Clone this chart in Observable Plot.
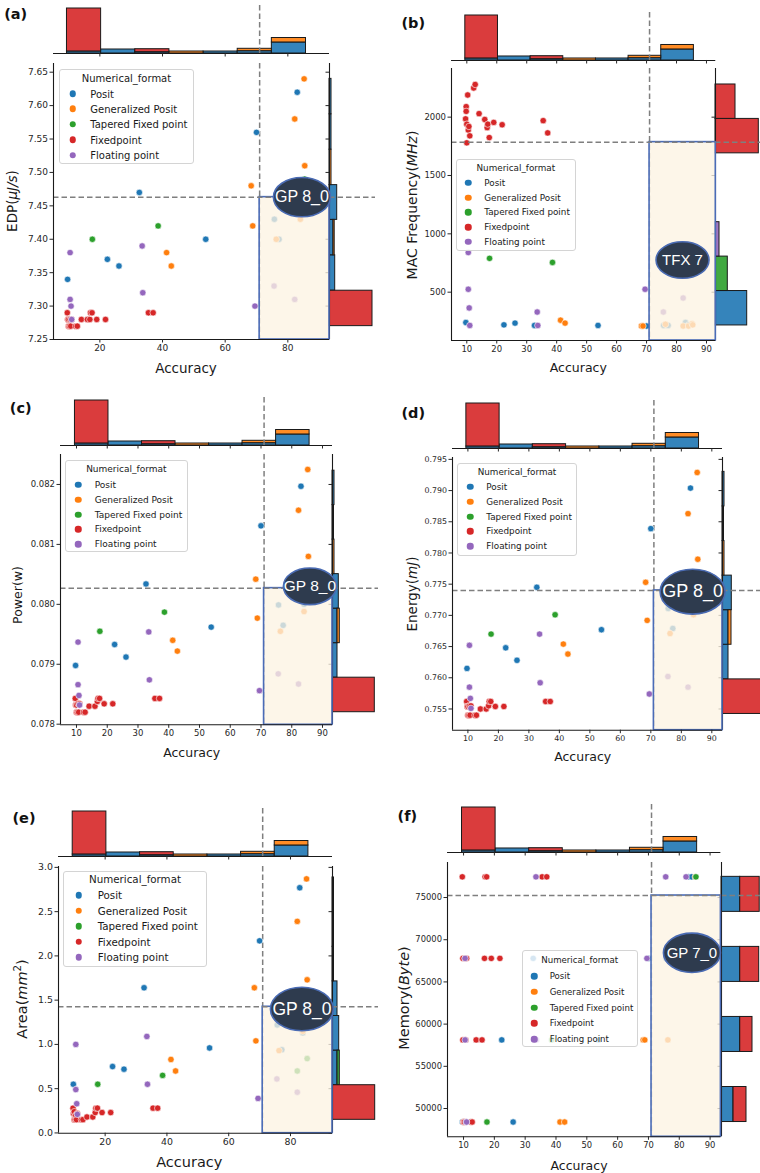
<!DOCTYPE html>
<html><head><meta charset="utf-8">
<script src="https://cdn.jsdelivr.net/npm/d3@7"></script>
<script src="https://cdn.jsdelivr.net/npm/@observablehq/plot@0.6"></script>
<style>
body{margin:0;background:#fff;}
#fig{position:relative;width:760px;height:1173px;overflow:hidden;font-family:"DejaVu Sans",sans-serif;color:#1a1a1a;}
.abs{position:absolute;}
.abs svg{max-width:none !important;display:block;}
.legend{position:absolute;background:rgba(255,255,255,0.82);border:1px solid #d4d4d4;border-radius:3px;box-sizing:border-box;font-family:"DejaVu Sans",sans-serif;color:#1a1a1a;}
.legend .row{position:absolute;left:0;right:0;white-space:nowrap;transform:translateY(-50%);}
.legend .dotm{position:absolute;width:6.5px;height:6.5px;border-radius:50%;top:50%;transform:translate(-50%,-50%);}
.ylab{position:absolute;white-space:nowrap;transform:translate(-50%,-50%) rotate(-90deg);font-family:"DejaVu Sans",sans-serif;color:#1a1a1a;}
.xlab{position:absolute;white-space:nowrap;transform:translate(-50%,-50%);font-family:"DejaVu Sans",sans-serif;color:#1a1a1a;}
.plab{position:absolute;white-space:nowrap;transform:translate(-50%,-50%);font-family:"DejaVu Sans",sans-serif;font-weight:bold;color:#111;}
</style>
</head><body>
<div id="fig"></div>
<script>
// ---------------- data ----------------
const formats = ["Posit","Generalized Posit","Tapered Fixed point","Fixedpoint","Floating point"];
const colors = ["#1f77b4","#ff7f0e","#2ca02c","#d62728","#9467bd"];

// one entry per configuration (format index)
const formatOf = [
  0,0,0,0,0,0,0,0,0,0,
  1,1,1,1,1,1,1,1,1,
  2,2,2,2,
  3,3,3,3,3,3,3,3,3,3,3,3,3,3,3,3,3,3,3,3,
  4,4,4,4,4,4,4,4,4
];
const accuracy = [
  9.7,22.4,26.1,32.6,53.8,70.0,75.7,77.2,83.0,84.0,
  41.3,42.8,68.3,68.8,76.3,82.2,84.0,85.2,85.4,
  17.6,38.6,82.2,85.4,
  9.6,9.8,9.8,10.0,10.0,10.3,10.5,10.7,11.0,12.3,12.8,14.1,16.0,16.8,17.0,17.5,19.0,21.8,35.5,37.0,
  10.5,10.5,10.8,11.0,33.5,33.7,69.5,75.6,82.2
];
const edp = [
  7.34,7.37,7.36,7.47,7.40,7.56,7.43,7.40,7.62,7.45,
  7.38,7.36,7.48,7.42,7.40,7.58,7.43,7.64,7.51,
  7.40,7.42,7.45,7.49,
  7.29,7.28,7.28,7.27,7.28,7.27,7.28,7.27,7.28,7.27,7.27,7.28,7.28,7.28,7.29,7.29,7.28,7.28,7.29,7.29,
  7.38,7.31,7.30,7.28,7.39,7.32,7.30,7.33,7.31
];
const mac = [
  240,220,235,215,215,210,215,215,240,220,
  260,235,210,210,225,210,210,230,220,
  790,755,770,785,
  1985,2090,2050,1940,1780,2190,1890,1920,1840,2250,2280,2030,1980,1910,1940,1825,1955,1935,1970,1865,
  840,525,365,215,330,215,525,330,450
];
const power = [
  0.07898,0.07933,0.07912,0.08034,0.07962,0.08131,0.07999,0.07965,0.08197,0.08000,
  0.07940,0.07922,0.08042,0.07977,0.07955,0.08157,0.07988,0.08225,0.08080,
  0.07955,0.07987,0.08030,0.08040,
  0.07843,0.07832,0.07832,0.07820,0.07832,0.07820,0.07834,0.07820,0.07834,0.07820,0.07820,0.07830,0.07830,0.07838,0.07843,0.07843,0.07834,0.07834,0.07843,0.07843,
  0.07937,0.07866,0.07848,0.07832,0.07954,0.07874,0.07856,0.07884,0.07867
];
const energy = [
  0.7615,0.7648,0.7628,0.7745,0.7677,0.7839,0.7711,0.7679,0.7904,0.7722,
  0.7654,0.7638,0.7753,0.7692,0.7671,0.7863,0.7701,0.7929,0.7790,
  0.7670,0.7701,0.7735,0.7745,
  0.7562,0.7554,0.7554,0.7540,0.7554,0.7540,0.7555,0.7540,0.7555,0.7540,0.7540,0.7550,0.7550,0.7555,0.7562,0.7562,0.7554,0.7554,0.7562,0.7562,
  0.7652,0.7585,0.7567,0.7551,0.7670,0.7592,0.7574,0.7602,0.7585
];
const area = [
  0.55,0.75,0.72,1.64,0.96,2.17,1.22,0.94,2.77,1.13,
  0.83,0.70,1.64,1.04,0.93,2.39,1.15,2.87,1.73,
  0.55,0.65,0.70,0.84,
  0.28,0.22,0.22,0.15,0.24,0.15,0.20,0.15,0.22,0.15,0.15,0.18,0.18,0.23,0.28,0.28,0.23,0.23,0.28,0.28,
  1.00,0.49,0.33,0.21,1.09,0.55,0.39,0.61,0.46
];
const memory = [
  48400,58130,48400,67790,58130,67790,67790,67790,77450,77450,
  48400,48400,58130,58130,58130,67790,67790,77450,67790,
  48400,58130,67790,77450,
  77450,67790,58130,48400,48400,48400,67790,58130,67790,48400,48400,58130,58130,67790,77450,77450,67790,67790,77450,77450,
  67790,58130,48400,48400,77450,58130,67790,77450,77450
];

const accuracyCut = 71;
const metricThreshold = [7.463, 1786, 0.08027, 0.7740, 1.425, 75237];
const labelText  = ["GP 8_0","TFX 7","GP 8_0","GP 8_0","GP 8_0","GP 7_0"];
const labelAcc   = [84.5, 82.0, 85.9, 83.7, 83.7, 84.1];
const labelValue = [7.463, 776, 0.0803, 0.7738, 1.40, 68450];

// marginal histogram of accuracy (bar lengths per format, bins left->right)
const accEdges = [9.5,20.4,31.3,42.2,53.1,64.0,74.9,85.8];
const accBars = [
  [2,4,1.3,0,2,2.3,11],
  [0,0,0,2,0,2.4,4.5],
  [0,0,0,0,0,0,0],
  [43,0,3,0,0,0,0],
  [0,0,0,0,0,0,0]
];
// marginal histograms of each metric (bins bottom->top)
const edpEdges = [7.27,7.323,7.376,7.429,7.481,7.534,7.587,7.64];
const edpBars = [[0,5.7,4,7.7,0,2,2],[0,0,1.2,0,2,0,0],[0,0,0,0,0,0,0],[43,0,0,0,0,0,0],[0,0,0,0,0,0,0]];
const macEdges = [215,510,805,1100,1395,1690,1985,2280];
const macBars = [[31.7,0,0,0,0,0,0],[0,0,0,0,0,0,0],[0,12.3,0,0,0,0,0],[0,0,0,0,0,43.3,20],[0,0,4,0,0,0,0]];
const powerEdges = [0.0782,0.078776,0.079352,0.079928,0.080504,0.08108,0.081656,0.08223];
const powerBars = [[0,5,5,6.3,0,1.5,2],[0,0,2.3,0,2,0,0],[0,0,0,0,0,0,0],[42.3,0,0,0,0,0,0],[0,0,0,0,0,0,0]];
const energyEdges = [0.7542,0.75974,0.76529,0.77083,0.77637,0.78191,0.78746,0.793];
const energyBars = [[0,6,6,9.3,0,1.5,2],[0,0,3,0,2,0,0],[0,0,0,0,0,0,0],[45,0,0,0,0,0,0],[0,0,0,0,0,0,0]];
const areaEdges = [0.148,0.539,0.930,1.321,1.712,2.103,2.495,2.886];
const areaBars = [[0,5,6.7,5,1.5,1.5,1.5],[0,0,0,0,0,0,0],[0,2.3,0,0,0,0,0],[42.7,0,0,0,0,0,0],[0,0,0,0,0,0,0]];
const memEdges = [48400,52550,56700,60850,65000,69150,73300,77450];
const memBars = [[12,0,18.7,0,18.7,0,18.7],[0,0,0,0,0,0,0],[0,0,0,0,0,0,0],[13,0,12.3,0,19,0,19.5],[0,0,0,0,0,0,0]];

// tick labels
const xTicks20 = [20,40,60,80];
const xTicks10 = [10,20,30,40,50,60,70,80,90];
const edpTicks = [7.25,7.30,7.35,7.40,7.45,7.50,7.55,7.60,7.65];
const macTicks = [500,1000,1500,2000];
const powerTicks = [0.078,0.079,0.080,0.081,0.082];
const energyTicks = [0.755,0.760,0.765,0.770,0.775,0.780,0.785,0.790,0.795];
const areaTicks = [0.0,0.5,1.0,1.5,2.0,2.5,3.0];
const memTicks = [50000,55000,60000,65000,70000,75000];

// ---------------- layout ----------------
const layout = [
 {tag:"(a)", values:edp, edges:edpEdges, bars:edpBars, L:53, T:63, R:329, B:339, xdom:[5.2,93.3], ydom:[7.25,7.663],
  xticks:xTicks20, yticks:edpTicks, yfmt:".2f", topBase:52.7, rightW:46, tickFs:9,
  ylab:'EDP(<i>μJ/s</i>)', ylx:12.3, yly:201, ylfs:13.5, xlx:186, xly:368, xlfs:13.5, plx:15.7, ply:14,
  lg:{x:58.7,y:69.3,w:135.6,h:95,s:15.4,t:7.4,mx:13,tx:30.6,fs:10}, ellR:28.5, ellFs:16},
 {tag:"(b)", values:mac, edges:macEdges, bars:macBars, L:450.7, T:68, R:715, B:340, xdom:[4.9,93.1], ydom:[86,2417],
  xticks:xTicks10, yticks:macTicks, yfmt:"d", topBase:60, rightW:46, tickFs:8.5,
  ylab:'MAC Frequency(<i>MHz</i>)', ylx:411.7, yly:205, ylfs:14, xlx:578.3, xly:367.3, xlfs:12.5, plx:413.3, ply:22.7,
  lg:{x:456,y:159.3,w:119.7,h:91.4,s:14.75,t:7.4,mx:11.3,tx:27.3,fs:8.8}, ellR:26.5, ellFs:15},
 {tag:"(c)", values:power, edges:powerEdges, bars:powerBars, L:60, T:454, R:332, B:724.3, xdom:[4.8,93.25], ydom:[0.07799,0.0825],
  xticks:xTicks10, yticks:powerTicks, yfmt:".3f", topBase:445, rightW:46, tickFs:8.5,
  ylab:'Power(w)', ylx:17.3, yly:594.7, ylfs:12.5, xlx:191.7, xly:751.7, xlfs:12.5, plx:20.7, ply:408.3,
  lg:{x:65,y:460,w:122.7,h:92.3,s:14.9,t:8.3,mx:12.3,tx:28.7,fs:9}, ellR:26.5, ellFs:15.5},
 {tag:"(d)", values:energy, edges:energyEdges, bars:energyBars, L:452.3, T:457.3, R:722.3, B:730, xdom:[4.95,93.5], ydom:[0.7516,0.7953],
  xticks:xTicks10, yticks:energyTicks, yfmt:".3f", topBase:447.7, rightW:46, tickFs:7.9,
  ylab:'Energy(<i>mJ</i>)', ylx:411.7, yly:594, ylfs:13.5, xlx:582.7, xly:756, xlfs:12.5, plx:413.3, ply:412.7,
  lg:{x:457.3,y:462.7,w:119.4,h:93,s:14.8,t:8,mx:12,tx:28,fs:8.8}, ellR:32.5, ellFs:18},
 {tag:"(e)", values:area, edges:areaEdges, bars:areaBars, L:57.7, T:866, R:331.7, B:1132.7, xdom:[4.9,93.6], ydom:[-0.003,3.01],
  xticks:xTicks20, yticks:areaTicks, yfmt:".1f", topBase:855.7, rightW:46, tickFs:9.4,
  ylab:'Area(<i>mm</i><sup style="font-size:0.7em">2</sup>)', ylx:20.7, yly:999, ylfs:14.5, xlx:189.3, xly:1161.7, xlfs:14.5, plx:24, ply:818.3,
  lg:{x:63.3,y:870.7,w:143.4,h:96,s:15.5,t:7.6,mx:14.4,tx:33.4,fs:10.3}, ellR:31.5, ellFs:17.5},
 {tag:"(f)", values:memory, edges:memEdges, bars:memBars, L:447.3, T:861.7, R:720.7, B:1136, xdom:[4.8,93.5], ydom:[46650,79150],
  xticks:xTicks10, yticks:memTicks, yfmt:"d", topBase:851.7, rightW:46, tickFs:8.4,
  ylab:'Memory(<i>Byte</i>)', ylx:404, yly:998, ylfs:14.5, xlx:579, xly:1165, xlfs:12.5, plx:407.3, ply:816,
  lg:{x:521.7,y:950,w:116,h:97.3,s:15.7,t:9,mx:11.6,tx:27,fs:8.6}, ellR:28.5, ellFs:15}
];

const fig = document.getElementById("fig");
function place(node, left, top) {
  const d = document.createElement("div");
  d.className = "abs"; d.style.left = left + "px"; d.style.top = top + "px";
  d.appendChild(node); fig.appendChild(d); return d;
}
function addText(cls, html, x, y, fs) {
  const d = document.createElement("div");
  d.className = cls; d.innerHTML = html;
  d.style.left = x + "px"; d.style.top = y + "px"; d.style.fontSize = fs + "px";
  fig.appendChild(d);
}
const ellipse = {
  draw(ctx, size) {
    const rx = Math.sqrt(size / Math.PI), ry = rx * 0.69, k = 0.5523;
    ctx.moveTo(rx, 0);
    ctx.bezierCurveTo(rx, ry * k, rx * k, ry, 0, ry);
    ctx.bezierCurveTo(-rx * k, ry, -rx, ry * k, -rx, 0);
    ctx.bezierCurveTo(-rx, -ry * k, -rx * k, -ry, 0, -ry);
    ctx.bezierCurveTo(rx * k, -ry, rx, -ry * k, rx, 0);
    ctx.closePath();
  }
};
const dash = {stroke: "#7f7f7f", strokeWidth: 1.5, strokeDasharray: "5.5,3"};
const histStyle = {fillOpacity: 0.9, stroke: "#1a1a1a", strokeWidth: 1};
const TOPH = 48;

layout.forEach((p, i) => {
  const w = p.R - p.L, h = p.B - p.T;
  const thr = metricThreshold[i];
  const baseStyle = {background: "transparent", overflow: "visible", fontFamily: "DejaVu Sans", fontSize: p.tickFs + "px", color: "#262626"};

  // ---- top marginal histogram (accuracy)
  const topRows = [];
  accBars.forEach((arr, f) => arr.forEach((v, b) => { if (v > 0) topRows.push({x1: accEdges[b], x2: accEdges[b + 1], y: v, f}); }));
  const topSvg = Plot.plot({
    width: w, height: TOPH + 6, marginLeft: 0, marginRight: 0, marginTop: 0, marginBottom: 6,
    style: baseStyle,
    x: {domain: p.xdom, label: null}, y: {domain: [0, TOPH], label: null, axis: null},
    marks: [
      Plot.rectY(topRows, {x1: "x1", x2: "x2", y: "y", fill: d => colors[d.f], ...histStyle}),
      Plot.ruleX([accuracyCut], dash),
      Plot.ruleY([0], {stroke: "#1a1a1a", strokeWidth: 1.1}),
      Plot.axisX({ticks: p.xticks, tickSize: 3.5, tickFormat: () => "", label: null})
    ]
  });
  place(topSvg, p.L, p.topBase - TOPH);

  // ---- right marginal histogram (metric)
  const rightRows = [];
  p.bars.forEach((arr, f) => arr.forEach((v, b) => { if (v > 0) rightRows.push({y1: p.edges[b], y2: p.edges[b + 1], x: v, f}); }));
  const rightSvg = Plot.plot({
    width: p.rightW + 4, height: h, marginLeft: 4, marginRight: 0, marginTop: 0, marginBottom: 0,
    style: baseStyle,
    x: {domain: [0, p.rightW], label: null, axis: null}, y: {domain: p.ydom, label: null},
    marks: [
      Plot.rectX(rightRows, {y1: "y1", y2: "y2", x: "x", fill: d => colors[d.f], ...histStyle}),
      Plot.ruleY([thr], dash),
      Plot.ruleX([0], {stroke: "#1a1a1a", strokeWidth: 1.1}),
      Plot.axisY({ticks: p.yticks, tickSize: 3.5, tickFormat: () => "", label: null})
    ]
  });
  place(rightSvg, p.R - 4, p.T);

  // ---- main scatter
  const ml = 50, mr = 14, mt = 4, mb = 24;
  const pts = accuracy.map((a, j) => ({acc: a, val: p.values[j], f: formatOf[j]}));
  const lab = [{acc: labelAcc[i], val: labelValue[i], text: labelText[i]}];
  const mainSvg = Plot.plot({
    width: w + ml + mr, height: h + mt + mb, marginLeft: ml, marginRight: mr, marginTop: mt, marginBottom: mb,
    style: baseStyle,
    x: {domain: p.xdom, label: null}, y: {domain: p.ydom, label: null},
    marks: [
      Plot.ruleX([accuracyCut], dash),
      Plot.dot(pts, {x: "acc", y: "val", fill: d => colors[d.f], r: 3.2, stroke: "white", strokeWidth: 0.6}),
      Plot.rect([thr], {x1: accuracyCut, x2: p.xdom[1], y1: p.ydom[0], y2: d => d, fill: "#fdf4e3", fillOpacity: 0.78, stroke: "#4b6cb7", strokeWidth: 1.6}),
      Plot.ruleY([thr], dash),
      Plot.dot(lab, {x: "acc", y: "val", symbol: ellipse, r: p.ellR, fill: "#2e3b4e", stroke: "#4a6bb3", strokeWidth: 1.6}),
      Plot.text(lab, {x: "acc", y: "val", text: "text", fill: "white", fontSize: p.ellFs, fontFamily: "Liberation Sans, Arial, sans-serif"}),
      Plot.ruleX([p.xdom[0]], {stroke: "#1a1a1a", strokeWidth: 1.1}),
      Plot.ruleY([p.ydom[0]], {stroke: "#1a1a1a", strokeWidth: 1.1}),
      Plot.axisX({ticks: p.xticks, tickSize: 3.5, tickPadding: 2, label: null}),
      Plot.axisY({ticks: p.yticks, tickSize: 3.5, tickPadding: 2, tickFormat: p.yfmt, label: null})
    ]
  });
  place(mainSvg, p.L - ml, p.T - mt);

  // ---- legend
  const g = p.lg;
  const lgd = document.createElement("div");
  lgd.className = "legend";
  Object.assign(lgd.style, {left: g.x + "px", top: g.y + "px", width: g.w + "px", height: g.h + "px", fontSize: g.fs + "px"});
  const title = document.createElement("div");
  title.className = "row"; title.style.top = g.t + "px"; title.style.textAlign = "center";
  title.textContent = "Numerical_format";
  lgd.appendChild(title);
  formats.forEach((name, k) => {
    const row = document.createElement("div");
    row.className = "row";
    row.style.top = (g.t + g.s * (k + 1) + 0.5) + "px";
    row.style.paddingLeft = g.tx + "px";
    const m = document.createElement("span");
    m.className = "dotm"; m.style.left = g.mx + "px"; m.style.background = colors[k];
    row.appendChild(m);
    row.appendChild(document.createTextNode(name));
    lgd.appendChild(row);
  });
  fig.appendChild(lgd);

  // ---- texts
  addText("ylab", p.ylab, p.ylx, p.yly, p.ylfs);
  addText("xlab", "Accuracy", p.xlx, p.xly, p.xlfs);
  addText("plab", p.tag, p.plx, p.ply, 14.5);
});
</script>
</body></html>
